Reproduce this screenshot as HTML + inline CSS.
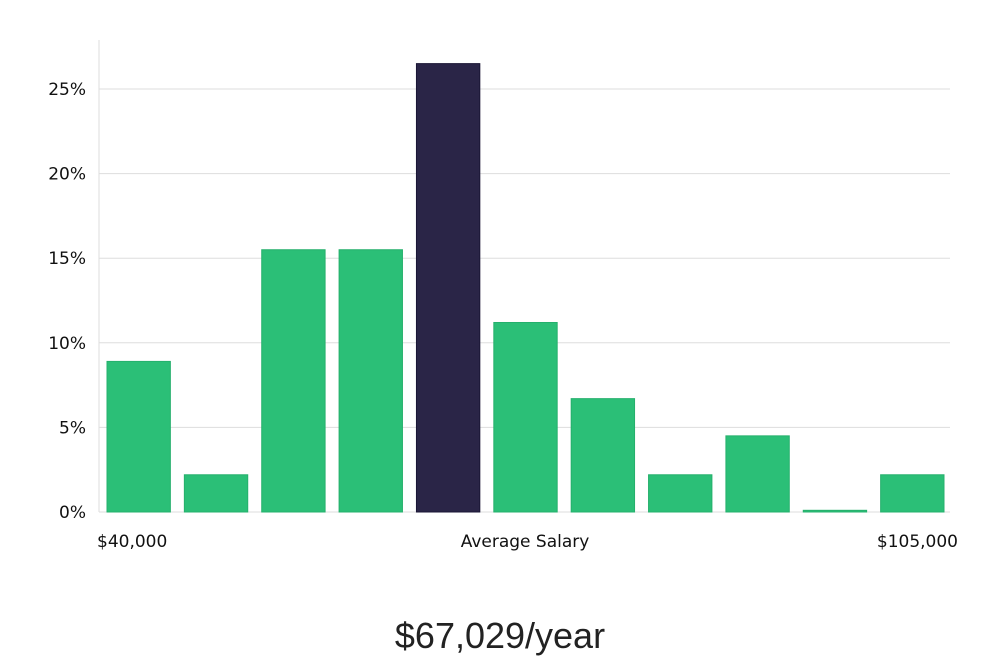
<!DOCTYPE html>
<html><head><meta charset="utf-8"><style>
body{margin:0;background:#fff;width:1000px;height:660px;overflow:hidden}
svg text{font-family:"DejaVu Sans","Liberation Sans",sans-serif}
</style></head><body>
<svg id="chart" width="1000" height="660" xmlns="http://www.w3.org/2000/svg">
<g id="grid"></g><g id="bars"></g><g id="labels"></g>
<text x="500" y="648" text-anchor="middle" font-size="36" fill="#222" style="font-family:'Liberation Sans',sans-serif;font-weight:300">$67,029/year</text>
</svg>
<script>
const categories=["b1","b2","b3","b4","b5","b6","b7","b8","b9","b10","b11"];
const values=[8.9,2.2,15.5,15.5,26.5,11.2,6.7,2.2,4.5,0.1,2.2];
const highlightIndex=4;
const yTicks=[0,5,10,15,20,25];
const yTickLabels=["0%","5%","10%","15%","20%","25%"];
const xLabels=["$40,000","Average Salary","$105,000"];
const ns="http://www.w3.org/2000/svg";
const x0=99,x1=950,y0=512,pxPer=16.92;
const y=v=>y0-v*pxPer;
const step=(x1-x0)/categories.length;
const grid=document.getElementById('grid'),bars=document.getElementById('bars'),labels=document.getElementById('labels');
function mk(tag,attrs,parent){const e=document.createElementNS(ns,tag);for(const k in attrs)e.setAttribute(k,attrs[k]);parent.appendChild(e);return e;}
const ax=mk('line',{x1:x0,x2:x0,y1:40,y2:y0,stroke:'#ddd'},grid);


yTicks.forEach((t,i)=>{
 const l=mk('line',{x1:x0,x2:x1,y1:y(t),y2:y(t),stroke:'#ddd'},grid);
 
 
 const tx=mk('text',{x:86,y:y(t)+6,'text-anchor':'end','font-size':17,fill:'#111'},labels);
 tx.textContent=yTickLabels[i];
 
 
});
values.forEach((v,i)=>{
 const r=mk('rect',{x:x0+i*step+8,y:y(v),width:step-14,height:Math.max(1,y0-y(v)),fill:i===highlightIndex?'#2a2547':'#2bbf77',stroke:i===highlightIndex?'#1a1535':'#25b06c','stroke-width':1},bars);
 
 
});
const xpos=[[97,'start'],[525,'middle'],[958,'end']];
xLabels.forEach((s,i)=>{
 const t=mk('text',{x:xpos[i][0],y:547,'text-anchor':xpos[i][1],'font-size':17,fill:'#111'},labels);
 t.textContent=s;
 
 
});
</script>
</body></html>
